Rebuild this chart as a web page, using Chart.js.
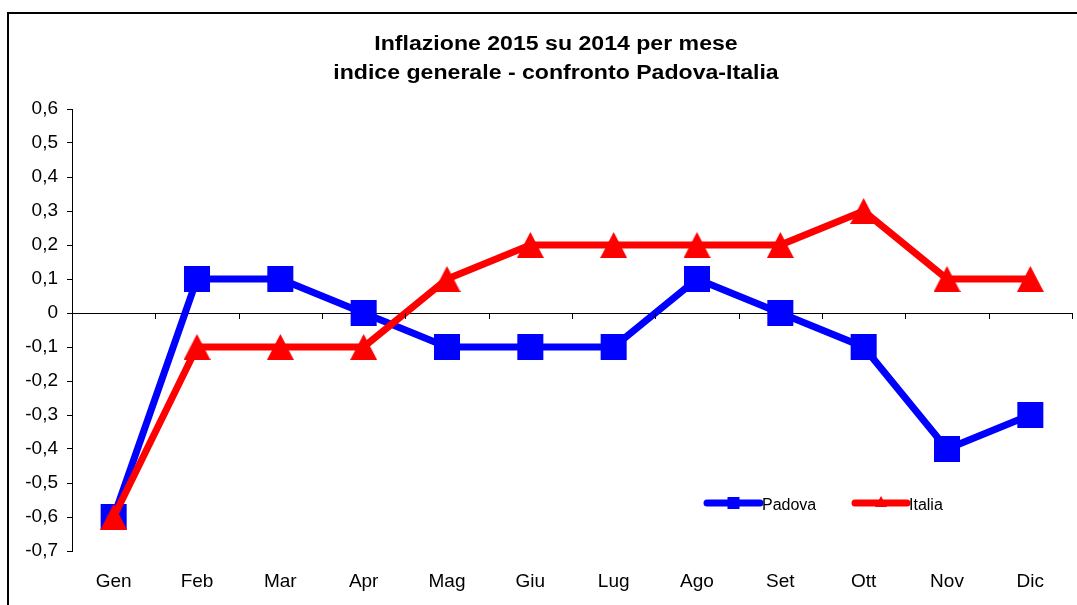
<!DOCTYPE html>
<html>
<head>
<meta charset="utf-8">
<script src="https://cdn.jsdelivr.net/npm/chart.js@4.4.0/dist/chart.umd.min.js"></script>
<style>
    html, body { margin: 0; padding: 0; background: #fff; overflow: hidden; }
    #wrap { position: relative; width: 1077px; height: 605px; }
    #frame {
        position: absolute; left: 7px; top: 12px; width: 1100px; height: 700px;
        border-left: 2px solid #000; border-top: 2px solid #000;
        box-sizing: border-box;
    }
    canvas { position: absolute; left: 0; top: 0; }
</style>
</head>
<body>
<div id="wrap">
    <div id="frame"></div>
    <canvas id="inflChart" width="1077" height="605"></canvas>
</div>
<script>
const months = ['Gen', 'Feb', 'Mar', 'Apr', 'Mag', 'Giu', 'Lug', 'Ago', 'Set', 'Ott', 'Nov', 'Dic'];
const padova = [-0.6, 0.1, 0.1, 0, -0.1, -0.1, -0.1, 0.1, 0, -0.1, -0.4, -0.3];
const italia = [-0.6, -0.1, -0.1, -0.1, 0.1, 0.2, 0.2, 0.2, 0.2, 0.3, 0.1, 0.1];
const titleLines = ['Inflazione 2015 su 2014 per mese', 'indice generale - confronto Padova-Italia'];

const BLUE = '#0000ff';
const RED = '#ff0000';
const FONT = '"Liberation Sans", Arial, sans-serif';

function makeTriangle(w, h) {
    const c = document.createElement('canvas');
    c.width = w;
    c.height = h;
    const g = c.getContext('2d');
    g.fillStyle = RED;
    g.beginPath();
    g.moveTo(w / 2, 0);
    g.lineTo(w, h);
    g.lineTo(0, h);
    g.closePath();
    g.fill();
    return c;
}

function formatComma(v) {
    const r = Math.round(v * 10) / 10;
    if (r === 0) return '0';
    return r.toFixed(1).replace('.', ',');
}

// title, zero line ticks and legend inside the plot
const extras = {
    id: 'extras',
    afterDatasetsDraw(chart) {
        const ctx = chart.ctx;
        const x = chart.scales.x;
        const y = chart.scales.y;
        const y0 = y.getPixelForValue(0);
        const step = x.getPixelForValue(1) - x.getPixelForValue(0);

        ctx.save();

        // title (the original is a bit wide)
        ctx.fillStyle = '#000';
        ctx.font = 'bold 20px ' + FONT;
        ctx.textAlign = 'center';
        ctx.textBaseline = 'middle';
        titleLines.forEach((line, i) => {
            ctx.save();
            ctx.translate(556, 44 + i * 29);
            ctx.scale(1.155, 1);
            ctx.fillText(line, 0, 0);
            ctx.restore();
        });

        ctx.strokeStyle = '#000';
        ctx.lineWidth = 1;
        for (let i = 1; i <= months.length; i++) {
            const px = Math.round(x.getPixelForValue(i) - step / 2) + 0.5;
            ctx.beginPath();
            ctx.moveTo(px, y0);
            ctx.lineTo(px, y0 + 6);
            ctx.stroke();
        }

        // legend
        const ly = 503;
        const items = [
            { x1: 707, x2: 760, color: BLUE, label: 'Padova', marker: 'rect' },
            { x1: 855, x2: 907, color: RED, label: 'Italia', marker: 'tri' }
        ];
        items.forEach(it => {
            ctx.strokeStyle = it.color;
            ctx.fillStyle = it.color;
            ctx.lineWidth = 7;
            ctx.lineCap = 'round';
            ctx.beginPath();
            ctx.moveTo(it.x1, ly);
            ctx.lineTo(it.x2, ly);
            ctx.stroke();
            const mx = (it.x1 + it.x2) / 2;
            if (it.marker === 'rect') {
                ctx.fillRect(mx - 6, ly - 6, 12, 12);
            } else {
                ctx.beginPath();
                ctx.moveTo(mx, ly - 7);
                ctx.lineTo(mx + 6, ly + 4);
                ctx.lineTo(mx - 6, ly + 4);
                ctx.closePath();
                ctx.fill();
            }
            ctx.fillStyle = '#000';
            ctx.font = '16px ' + FONT;
            ctx.textAlign = 'left';
            ctx.textBaseline = 'middle';
            ctx.fillText(it.label, it.x2 + 2, ly + 3);
        });
        ctx.restore();
    }
};

new Chart(document.getElementById('inflChart'), {
    type: 'line',
    data: {
        labels: months,
        datasets: [{
            label: 'Padova',
            data: padova,
            order: 2,
            borderColor: BLUE,
            backgroundColor: BLUE,
            borderWidth: 7,
            pointStyle: 'rect',
            pointRadius: 18.4,
            pointBorderWidth: 0,
            tension: 0,
            fill: false
        }, {
            label: 'Italia',
            data: italia,
            order: 1,
            borderColor: RED,
            backgroundColor: RED,
            borderWidth: 7,
            pointStyle: makeTriangle(27, 26),
            pointRadius: 13,
            pointBorderWidth: 0,
            tension: 0,
            fill: false
        }]
    },
    options: {
        responsive: false,
        animation: false,
        events: [],
        layout: { autoPadding: false, padding: { left: 0, right: 5, top: 109, bottom: 0 } },
        plugins: {
            legend: { display: false },
            tooltip: { enabled: false },
            title: { display: false }
        },
        scales: {
            x: {
                offset: true,
                grid: { display: false, drawTicks: false },
                border: { display: false },
                ticks: { color: '#000', font: { family: FONT, size: 19 }, padding: 19 },
                afterFit(scale) {
                    scale.height = 54;
                    scale.paddingLeft = 0;
                    scale.paddingRight = 0;
                }
            },
            y: {
                min: -0.7,
                max: 0.6,
                ticks: {
                    stepSize: 0.1,
                    color: '#000',
                    font: { family: FONT, size: 19 },
                    padding: 9,
                    callback: v => formatComma(v)
                },
                grid: {
                    drawOnChartArea: true,
                    drawTicks: true,
                    tickLength: 5,
                    tickColor: '#000',
                    color: c => (c.tick && Math.abs(c.tick.value) < 1e-9) ? '#000' : 'rgba(0,0,0,0)',
                    lineWidth: 1
                },
                border: { display: true, color: '#000', width: 1 },
                afterFit(scale) { scale.width = 72; }
            }
        }
    },
    plugins: [extras]
});
</script>
</body>
</html>
